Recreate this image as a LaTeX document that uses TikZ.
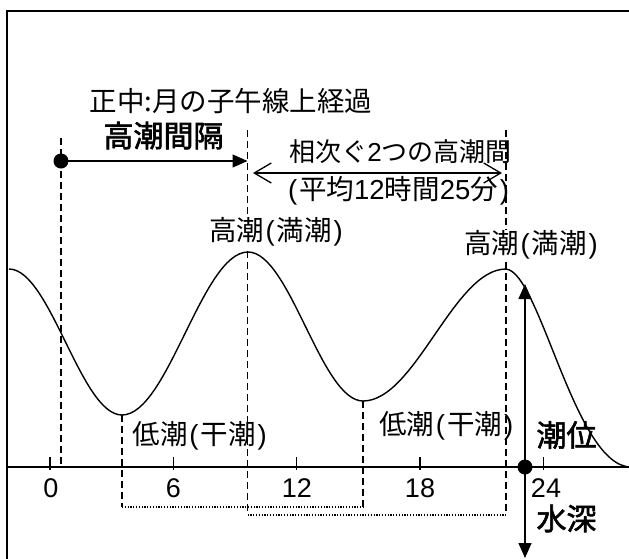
\documentclass[tikz,border=0pt]{standalone}
\usepackage{fontspec}
\setmainfont{Noto Sans CJK JP}[AutoFakeBold=2]
\newfontfamily\latf{Liberation Sans}
\newcommand\myLP{\kern1.5pt{\latf(}\kern2pt}
\newcommand\myRP{\kern2pt{\latf)}\kern1.5pt}
\usetikzlibrary{arrows.meta}
\begin{document}
\begin{tikzpicture}[x=1pt,y=-1pt,
  lbl/.style={font=\fontsize{27.5}{32}\selectfont, inner sep=0pt},
  num/.style={font=\fontsize{27}{32}\selectfont\latf, inner sep=0pt},
  blbl/.style={font=\fontsize{30}{34}\selectfont\bfseries, inner sep=0pt},
  wlbl/.style={lbl, fill=white, inner sep=1pt},
  guide/.style={line width=1.3pt, dash pattern=on 6.5pt off 4.5pt},
  dotline/.style={line width=1.1pt, dash pattern=on 1.2pt off 1.6pt},
  thick1/.style={line width=1.4pt},
  dot/.style={circle, fill=black, inner sep=0pt, minimum size=15pt},
  tri/.style={-{Triangle[length=15pt,width=13pt]}, line width=1.4pt},
  barb/.style={{Straight Barb[length=17pt,width=20pt]}-{Straight Barb[length=17pt,width=20pt]}, line width=1.3pt}]
\useasboundingbox (0,0) rectangle (629,558);
% frame
\draw[line width=2pt] (7,560) -- (7,11) -- (631,11);
% dashed guides
\coordinate (ga1) at (61,138);   \coordinate (ga2) at (61,467);
\coordinate (gb1) at (247.5,130); \coordinate (gb2) at (247.5,515);
\coordinate (gc1) at (506,130);  \coordinate (gc2) at (506,515);
\coordinate (gd1) at (122,415);  \coordinate (gd2) at (122,507);
\coordinate (ge1) at (363,401);  \coordinate (ge2) at (363,507);
\draw[guide] (ga1) -- (ga2);
\draw[guide] (gb1) -- (gb2);
\draw[guide] (gc1) -- (gc2);
\draw[guide] (gd1) -- (gd2);
\draw[guide] (ge1) -- (ge2);
\draw[dotline] (gd2) -- (ge2);
\draw[dotline] (gb2) -- (gc2);
% axis
\coordinate (ax1) at (7,467); \coordinate (ax2) at (631,467);
\draw[line width=1.4pt] (ax1) -- (ax2);
\foreach \x in {50,173.3,296.8,420,543.5}{
  \draw[line width=1.3pt] (\x,457) -- (\x,470);
}
\node[num] (n0) at (51,488) {0};
\node[num] (n6) at (173.3,488) {6};
\node[num] (n12) at (296.8,488) {12};
\node[num] (n18) at (420,488) {18};
\node[num] (n24) at (546,488) {24};
% labels with white backing
\node[wlbl] (hw1) at (276.7,232) {高潮\myLP 満潮\myRP};
\node[wlbl] (hw2) at (531.7,245) {高潮\myLP 満潮\myRP};
% tide curve
\draw[thick1] (9,269) .. controls (50.2,269) and (80.8,415) .. (122,415)
  .. controls (167.9,415) and (202.1,252) .. (248,252)
  .. controls (289.9,252) and (321.1,401) .. (363,401)
  .. controls (415.1,401) and (453.9,269) .. (506,269)
  .. controls (540,272) and (575,467) .. (631,467);
% texts
\node[lbl] (title) at (231,101) {正中:月の子午線上経過};
\node[blbl] (kk) at (163.5,135.5) {高潮間隔};
\node[lbl, font=\fontsize{26}{30}\selectfont] (ai) at (400.5,152) {相次ぐ{\latf 2}つの高潮間};
\node[lbl] (av) at (398.5,191) {\myLP 平均{\latf 12}時間{\latf 25}分\myRP};
\node[lbl] (lw1) at (200.5,436) {低潮\myLP 干潮\myRP};
\node[lbl] (lw2) at (447,426) {低潮\myLP 干潮\myRP};
\node[blbl] (cw) at (566.5,435) {潮位};
\node[blbl] (sw) at (566.5,518.5) {水深};
% arrows
\node[dot] (d1) at (61,161) {};
\coordinate (t1) at (247.5,161);
\draw[tri] (d1.center) -- (t1);
\coordinate (h1) at (253,173); \coordinate (h2) at (502,173);
\draw[barb] (h1) -- (h2);
\node[dot] (d2) at (525,467) {};
\coordinate (up) at (525,284); \coordinate (dn) at (525,558);
\draw[tri] (d2.center) -- (up);
\draw[tri] (d2.center) -- (dn);
\end{tikzpicture}
\end{document}
